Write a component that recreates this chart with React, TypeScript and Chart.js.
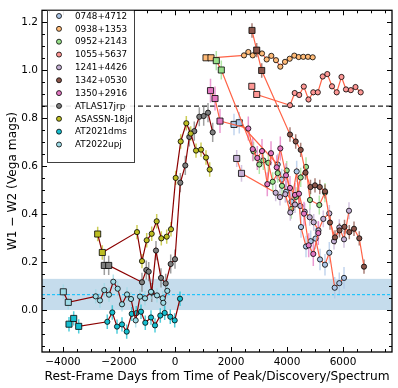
import { useEffect, useRef } from 'react';
import { Chart, registerables } from 'chart.js';
Chart.register(...registerables);

// ---------- data ----------
const seriesNames = ['0748+4712', '0938+1353', '0952+2143', '1055+5637', '1241+4426', '1342+0530', '1350+2916', 'ATLAS17jrp', 'ASASSN-18jd', 'AT2021dms', 'AT2022upj'];
const seriesColors = ['#aec7e8', '#ffbb78', '#98df8a', '#ff9896', '#c5b0d5', '#8c564b', '#e377c2', '#7f7f7f', '#bcbd22', '#17becf', '#9edae5'];
const lineColors = ['#ff6347', '#ff6347', '#ff6347', '#ff6347', '#ff6347', '#ff6347', '#ff6347', '#8b0000', '#8b0000', '#8b0000', '#8b0000'];
const squareCounts = [2, 2, 2, 2, 2, 3, 3, 2, 2, 3, 2];
const errSizes = [0.045, 0.008, 0.04, 0.012, 0.035, 0.03, 0.05, 0.04, 0.03, 0.03, 0.03];

const x0748 = [2107, 2296, 3668, 3811, 3964, 4161, 4346, 4500, 4679, 4846, 5018, 5179, 5357, 5511, 5704, 5868, 6036];
const y0748 = [0.774, 0.781, 0.607, 0.544, 0.493, 0.452, 0.578, 0.346, 0.265, 0.287, 0.298, 0.211, 0.189, 0.239, 0.093, 0.112, 0.134];

const x0938 = [1107, 1286, 2464, 2618, 2775, 2939, 3107, 3275, 3439, 3607, 3761, 3929, 4096, 4261, 4418, 4582, 4750, 4918];
const y0938 = [1.052, 1.052, 1.062, 1.076, 1.062, 1.078, 1.070, 1.045, 1.060, 1.042, 1.015, 1.035, 1.048, 1.061, 1.055, 1.056, 1.056, 1.054];

const x0952 = [1475, 1654, 2804, 3011, 3154, 3332, 3489, 3668, 3821, 3989, 4154, 4321, 4489, 4679, 4821, 5154, 5357];
const y0952 = [1.040, 1.001, 0.662, 0.607, 0.624, 0.614, 0.535, 0.571, 0.518, 0.582, 0.421, 0.472, 0.553, 0.597, 0.459, 0.438, 0.490];

const x1055 = [2743, 2918, 4107, 4275, 4436, 4600, 4768, 4939, 5100, 5275, 5439, 5607, 5775, 5946, 6107, 6279, 6446, 6632];
const y1055 = [0.933, 0.899, 0.854, 0.905, 0.897, 0.932, 0.878, 0.908, 0.908, 0.974, 0.984, 0.933, 0.908, 0.972, 0.920, 0.917, 0.930, 0.908];

const x1241 = [2204, 2375, 3596, 3750, 3939, 4118, 4286, 4475, 4632, 4811, 4954, 5125, 5296, 5511, 5679, 5868, 6036, 6214];
const y1241 = [0.632, 0.570, 0.489, 0.471, 0.483, 0.407, 0.440, 0.434, 0.410, 0.387, 0.366, 0.332, 0.380, 0.403, 0.287, 0.344, 0.295, 0.414];

const x1342 = [2750, 2918, 3096, 4107, 4311, 4489, 4661, 4839, 5000, 5171, 5357, 5536, 5714, 5875, 6054, 6225, 6393, 6582, 6750];
const y1342 = [1.166, 1.084, 0.999, 0.732, 0.703, 0.668, 0.573, 0.513, 0.520, 0.513, 0.495, 0.365, 0.303, 0.332, 0.347, 0.325, 0.339, 0.299, 0.181];

const x1350 = [1268, 1429, 1607, 2618, 2775, 2939, 3107, 3296, 3429, 3632, 3761, 3964, 4107, 4286, 4429, 4607, 4775, 4939, 5118];
const y1350 = [0.915, 0.882, 0.788, 0.757, 0.671, 0.634, 0.663, 0.525, 0.654, 0.595, 0.674, 0.562, 0.509, 0.480, 0.485, 0.402, 0.270, 0.234, 0.321];

const xAtlas = [-2525, -2368, -1179, -1025, -939, -832, -679, -500, -332, -154, 0, 189, 368, 511, 689, 868, 1025, 1179, 1346];
const yAtlas = [0.186, 0.186, 0.116, 0.167, 0.160, 0.073, 0.248, 0.134, 0.111, 0.192, 0.212, 0.531, 0.603, 0.722, 0.746, 0.806, 0.809, 0.823, 0.741];

const xAsassn = [-2761, -2596, -1357, -1179, -1011, -832, -654, -489, -296, -143, 25, 204, 404, 561, 750, 929, 1107, 1239];
const yAsassn = [0.317, 0.240, 0.325, 0.204, 0.291, 0.318, 0.370, 0.299, 0.306, 0.337, 0.551, 0.703, 0.779, 0.736, 0.665, 0.669, 0.636, 0.586];

const xDms = [-3786, -3618, -3439, -2418, -2239, -2071, -1893, -1725, -1546, -1382, -1214, -1061, -857, -714, -525, -368, -168, -11, 179];
const yDms = [-0.059, -0.035, -0.068, -0.049, -0.010, -0.069, -0.060, -0.090, -0.016, -0.013, -0.007, -0.053, -0.031, -0.064, -0.023, -0.012, -0.028, -0.043, 0.047];

const xUpj = [-3989, -3811, -2832, -2679, -2525, -2357, -2204, -2046, -1893, -1714, -1571, -1404, -1250, -1071, -857, -643, -439, -418, -275];
const yUpj = [0.076, 0.032, 0.057, 0.040, 0.083, 0.064, 0.118, 0.089, 0.024, 0.065, 0.046, -0.043, 0.056, 0.049, 0.076, 0.061, 0.049, 0.030, 0.080];

const seriesX = [x0748, x0938, x0952, x1055, x1241, x1342, x1350, xAtlas, xAsassn, xDms, xUpj];
const seriesY = [y0748, y0938, y0952, y1055, y1241, y1342, y1350, yAtlas, yAsassn, yDms, yUpj];

const xTicks = [-4000, -2000, 0, 2000, 4000, 6000];
const yTicks = [0.0, 0.2, 0.4, 0.6, 0.8, 1.0, 1.2];
const xRange = [-4750, 7750];
const yRange = [-0.175, 1.25];
const bandRange = [0.0, 0.13];
const bandCenter = 0.064;
const thresholdLine = 0.85;
const xTitle = 'Rest-Frame Days from Time of Peak/Discovery/Spectrum';
const yTitle = 'W1 \u2212 W2 (Vega mags)';

const FONT = "'DejaVu Sans', sans-serif";
const fmt = (v: number, d: number) => (v < 0 ? '\u2212' : '') + Math.abs(v).toFixed(d);

function hexA(hex: string, a: number) {
  const n = parseInt(hex.slice(1), 16);
  return `rgba(${(n >> 16) & 255},${(n >> 8) & 255},${n & 255},${a})`;
}

const customPlugin = {
  id: 'custom',
  beforeDatasetsDraw(chart: any) {
    const { ctx, chartArea: a, scales } = chart;
    const xs = scales.x, ys = scales.y;
    ctx.save();
    ctx.beginPath();
    ctx.rect(a.left, a.top, a.right - a.left, a.bottom - a.top);
    ctx.clip();
    const b0 = ys.getPixelForValue(bandRange[0]);
    const b1 = ys.getPixelForValue(bandRange[1]);
    ctx.fillStyle = 'rgba(31,119,180,0.26)';
    ctx.fillRect(a.left, b1, a.right - a.left, b0 - b1);
    // cyan dashed
    ctx.strokeStyle = '#00bfff';
    ctx.lineWidth = 1;
    ctx.setLineDash([3, 2]);
    const yc = ys.getPixelForValue(bandCenter);
    ctx.beginPath(); ctx.moveTo(a.left, yc); ctx.lineTo(a.right, yc); ctx.stroke();
    // black dashed
    ctx.strokeStyle = '#222';
    ctx.lineWidth = 1.3;
    ctx.setLineDash([5, 3]);
    const yt = ys.getPixelForValue(thresholdLine);
    ctx.beginPath(); ctx.moveTo(a.left, yt); ctx.lineTo(a.right, yt); ctx.stroke();
    ctx.setLineDash([]);
    // error bars
    ctx.lineWidth = 1.5;
    seriesX.forEach((xsArr, si) => {
      ctx.strokeStyle = hexA(seriesColors[si], 0.75);
      xsArr.forEach((xv, i) => {
        const px = xs.getPixelForValue(xv);
        const e = errSizes[si];
        const p0 = ys.getPixelForValue(seriesY[si][i] - e);
        const p1 = ys.getPixelForValue(seriesY[si][i] + e);
        ctx.beginPath(); ctx.moveTo(px, p0); ctx.lineTo(px, p1); ctx.stroke();
      });
    });
    ctx.restore();
  },
  afterDraw(chart: any) {
    const { ctx, chartArea: a, scales } = chart;
    const xs = scales.x, ys = scales.y;
    ctx.save();
    // ticks
    ctx.strokeStyle = '#000';
    ctx.lineWidth = 1;
    const tick = (v: number, len: number, horiz: boolean) => {
      if (horiz) {
        const p = Math.round(xs.getPixelForValue(v)) + 0.5;
        ctx.beginPath();
        ctx.moveTo(p, a.bottom); ctx.lineTo(p, a.bottom - len);
        ctx.moveTo(p, a.top); ctx.lineTo(p, a.top + len);
        ctx.stroke();
      } else {
        const p = Math.round(ys.getPixelForValue(v)) + 0.5;
        ctx.beginPath();
        ctx.moveTo(a.left, p); ctx.lineTo(a.left + len, p);
        ctx.moveTo(a.right, p); ctx.lineTo(a.right - len, p);
        ctx.stroke();
      }
    };
    for (let v = -4500; v <= 7500; v += 500) {
      tick(v, xTicks.includes(v) ? 5 : 3, true);
    }
    for (let k = -3; k <= 25; k++) {
      const v = k * 0.05;
      const major = k % 4 === 0;
      tick(v, major ? 5 : 3, false);
    }
    // frame
    ctx.lineWidth = 1.3;
    ctx.strokeRect(a.left, a.top, a.right - a.left, a.bottom - a.top);
    // titles
    ctx.fillStyle = '#000';
    ctx.font = `12.2px ${FONT}`;
    ctx.textAlign = 'center';
    ctx.textBaseline = 'middle';
    ctx.fillText(xTitle, (a.left + a.right) / 2, 377);
    ctx.save();
    ctx.translate(13, (a.top + a.bottom) / 2);
    ctx.rotate(-Math.PI / 2);
    ctx.fillText(yTitle, 0, 0);
    ctx.restore();
    // legend
    const lx = 47, ly = 10, lw = 87, lh = 152;
    ctx.fillStyle = 'rgba(255,255,255,0.9)';
    ctx.fillRect(lx, ly, lw, lh);
    ctx.strokeStyle = 'rgba(0,0,0,0.75)';
    ctx.lineWidth = 1;
    ctx.strokeRect(lx + 0.5, ly + 0.5, lw, lh);
    ctx.font = `8.8px ${FONT}`;
    ctx.textAlign = 'left';
    ctx.textBaseline = 'middle';
    seriesNames.forEach((n, i) => {
      const yy = 16 + i * 12.85;
      ctx.beginPath();
      ctx.arc(59, yy, 2.5, 0, Math.PI * 2);
      ctx.fillStyle = seriesColors[i];
      ctx.fill();
      ctx.lineWidth = 0.8;
      ctx.strokeStyle = '#000';
      ctx.stroke();
      ctx.fillStyle = '#000';
      ctx.fillText(n, 75, yy + 0.5);
    });
    ctx.restore();
  },
};

export default function App() {
  const ref = useRef<HTMLCanvasElement>(null);
  useEffect(() => {
    if (!ref.current) return;
    const datasets = seriesNames.map((name, si) => ({
      label: name,
      data: seriesX[si].map((xv, i) => ({ x: xv, y: seriesY[si][i] })),
      showLine: true,
      borderColor: lineColors[si],
      borderWidth: 1.2,
      backgroundColor: seriesColors[si],
      pointBackgroundColor: seriesColors[si],
      pointBorderColor: '#000',
      pointBorderWidth: 0.8,
      pointStyle: seriesX[si].map((_, i) => (i < squareCounts[si] ? 'rect' : 'circle')),
      pointRadius: seriesX[si].map((_, i) => (i < squareCounts[si] ? 4.3 : 2.6)),
      order: -si,
    }));
    const chart = new Chart(ref.current, {
      type: 'scatter',
      data: { datasets },
      options: {
        animation: false,
        responsive: false,
        devicePixelRatio: 1,
        layout: { padding: { top: 6, right: 6, left: 0, bottom: 0 } },
        plugins: { legend: { display: false }, tooltip: { enabled: false } },
        scales: {
          x: {
            type: 'linear',
            min: xRange[0],
            max: xRange[1],
            grid: { display: false, drawTicks: false },
            border: { display: false },
            afterBuildTicks: (s: any) => { s.ticks = xTicks.map((v) => ({ value: v })); },
            afterFit: (s: any) => { s.height = 36; },
            ticks: {
              color: '#000',
              padding: 4,
              maxRotation: 0,
              autoSkip: false,
              font: { family: FONT, size: 10.5 },
              callback: (v: any) => fmt(Number(v), 0),
            },
          },
          y: {
            type: 'linear',
            min: yRange[0],
            max: yRange[1],
            grid: { display: false, drawTicks: false },
            border: { display: false },
            afterBuildTicks: (s: any) => { s.ticks = yTicks.map((v) => ({ value: v })); },
            afterFit: (s: any) => { s.width = 42; },
            ticks: {
              color: '#000',
              padding: 4,
              autoSkip: false,
              font: { family: FONT, size: 10.5 },
              callback: (v: any) => fmt(Number(v), 1),
            },
          },
        },
      },
      plugins: [customPlugin],
    });
    return () => chart.destroy();
  }, []);
  return (
    <div style={{ position: 'absolute', left: 0, top: 0, width: 398, height: 388, background: '#fff' }}>
      <canvas ref={ref} width={398} height={388} />
    </div>
  );
}
